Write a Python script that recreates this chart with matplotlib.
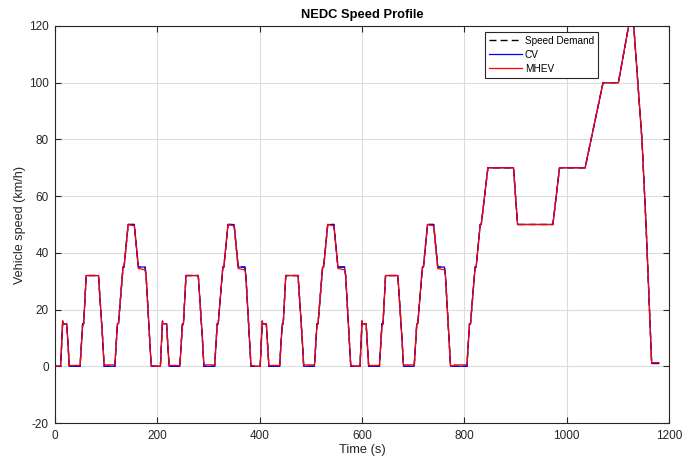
import numpy as np
import matplotlib
matplotlib.use("Agg")
import matplotlib.pyplot as plt

plt.rcParams["font.family"] = ["Liberation Sans", "DejaVu Sans"]
plt.rcParams["axes.unicode_minus"] = False

# one ECE-15 urban cycle (195 s): breakpoints (s) and speeds (km/h)
ece_t = [0, 11, 15, 16, 23, 25, 28, 49, 54, 56, 61, 85, 93, 96, 117, 122, 124,
         133, 135, 143, 155, 163, 176, 178, 185, 188, 195]
ece_demand = [0, 0, 15, 15, 15, 9, 0, 0, 15, 15, 32, 32, 10, 0, 0, 15, 15,
              35, 35, 50, 50, 35, 35, 32, 10, 0, 0]
ece_cv = [0, 0, 16, 15, 15, 9, 0, 0, 15, 15, 32, 32, 10, 0, 0, 15, 15,
          35, 35, 50, 50, 35, 35, 32, 10, 0, 0]
ece_mhev = [0, 0, 16, 15, 15, 9, 0.3, 0.3, 14, 15, 32, 32, 10, 0.5, 0.5, 15, 15,
            35, 35, 50, 49.5, 34.5, 34, 32, 10, 0.2, 0.2]
ece_starts = [0, 195, 390, 585]

# extra-urban cycle (EUDC)
eudc_t = [780, 805, 810, 812, 821, 823, 831, 833, 846, 896, 904, 973, 986, 1036,
          1071, 1101, 1121, 1131, 1147, 1155, 1166, 1180]
eudc_demand = [0, 0, 15, 15, 35, 35, 50, 50, 70, 70, 50, 50, 70, 70,
               100, 100, 120, 120, 80, 50, 1, 1]
eudc_cv = [0, 0, 15, 15, 35, 35, 50, 50, 70, 70, 50, 50, 70, 70,
           100, 100, 120, 120, 80, 50, 1, 1]
eudc_mhev = [0.5, 0.5, 15, 15, 35, 35, 50, 50, 70, 70, 50, 50, 70, 70,
             100, 100, 120, 120, 80, 50, 1.3, 1.3]


def build(ece_v, eudc_v):
    t = np.concatenate([np.array(ece_t) + s for s in ece_starts] + [eudc_t])
    v = np.concatenate([ece_v] * len(ece_starts) + [eudc_v])
    return t, v


t_dem, v_dem = build(ece_demand, eudc_demand)
t_cv, v_cv = build(ece_cv, eudc_cv)
t_mh, v_mh = build(ece_mhev, eudc_mhev)

fig = plt.figure(figsize=(6.97, 4.59), dpi=100)
ax = fig.add_axes([0.0789, 0.0784, 0.881, 0.865])

ax.plot(t_dem, v_dem, color="k", linestyle=(0, (5, 3)), linewidth=1.0,
        label="Speed Demand")
ax.plot(t_cv, v_cv, color="b", linewidth=0.9, label="CV")
ax.plot(t_mh, v_mh, color="r", linewidth=0.9, label="MHEV")

ax.set_xlim(0, 1200)
ax.set_ylim(-20, 120)
ax.set_xticks(np.arange(0, 1201, 200))
ax.set_yticks(np.arange(-20, 121, 20))
ax.grid(True, color="#dcdcdc", linewidth=0.8)
ax.set_axisbelow(True)
ax.tick_params(direction="in", length=4, labelsize=8.5, colors="#262626",
               top=True, right=True)
ax.tick_params(axis="y", pad=4.5)
ax.tick_params(axis="x", pad=5)
for s in ax.spines.values():
    s.set_color("#262626")
    s.set_linewidth(0.8)

ax.set_title("NEDC Speed Profile", fontsize=9.3, fontweight="bold", pad=6)
ax.set_xlabel("Time (s)", fontsize=9.3, color="#262626", labelpad=1.5)
ax.set_ylabel("Vehicle speed (km/h)", fontsize=9.1, color="#262626",
              labelpad=2)

leg = ax.legend(loc="upper right", bbox_to_anchor=(0.884, 0.985), fontsize=7.2,
                fancybox=False, framealpha=1, edgecolor="#262626",
                handlelength=3.3, borderpad=0.4, labelspacing=0.4,
                handletextpad=0.3, borderaxespad=0)
leg.get_frame().set_linewidth(0.8)

fig.savefig("out.png", dpi=100)
